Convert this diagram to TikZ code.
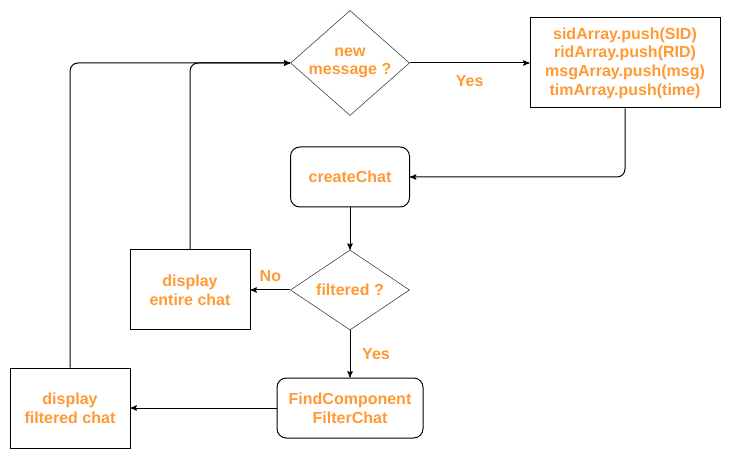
\documentclass[tikz,border=0pt]{standalone}
\usepackage{xcolor}
\usepackage{fontspec}
\setmainfont{Liberation Sans}
\usepackage{tikz}
\usetikzlibrary{arrows}
\usetikzlibrary{shapes.geometric}
\definecolor{txtorange}{HTML}{FF9933}
\tikzset{
  box/.style = {draw=black, line width=0.75pt, rectangle, inner sep=0pt, align=center,
    text=txtorange, font=\fontsize{12}{14}\selectfont\bfseries},
  rbox/.style = {box, rounded corners=7pt},
  ask/.style = {draw=black!80, diamond, aspect=1.1, inner xsep=0pt, inner ysep=-4pt,
    align=center, text=txtorange, font=\fontsize{12}{14}\selectfont\bfseries},
  lbl/.style = {text=txtorange, font=\fontsize{12}{14}\selectfont\bfseries},
  link/.style = {black, line width=0.75pt, ->, >=stealth', rounded corners=6pt}
}

\begin{document}
\begin{tikzpicture} [x=0.75pt, y=-0.75pt]
\useasboundingbox (0,0) rectangle (731,459);
\node[ask, minimum width=89.25pt, minimum height=78.75pt] (newmsg) at (350,63) {new\\message ?};
\node[box, minimum width=142.5pt, minimum height=67.5pt] (push) at (625,63)
  {sidArray.push(SID)\\ridArray.push(RID)\\msgArray.push(msg)\\timArray.push(time)};
\node[rbox, minimum width=89.25pt, minimum height=45pt] (create) at (350,177) {createChat};
\node[ask, minimum width=89.25pt, minimum height=60pt] (filt) at (350,290) {filtered ?};
\node[box, minimum width=90pt, minimum height=60pt] (entire) at (190,290) {display\\entire chat};
\node[rbox, minimum width=109.5pt, minimum height=45pt] (find) at (350,408) {FindComponent\\FilterChat};
\node[box, minimum width=90pt, minimum height=60pt] (shown) at (70,408) {display\\filtered chat};

\draw[link] (newmsg.east) -- node[lbl, yshift=-13.5pt] {Yes} (push.west);
\draw[link] (push.south) |- (create.east);
\draw[link] (create.south) -- (filt.north);
\draw[link] (filt.west) -- node[lbl, yshift=10.5pt] {No} (entire.east);
\draw[link] (filt.south) -- node[lbl, xshift=19.5pt] {Yes} (find.north);
\draw[link] (find.west) -- (shown.east);
\draw[link] (entire.north) |- (newmsg.west);
\draw[link] (shown.north) |- (newmsg.west);
\end{tikzpicture}
\end{document}
